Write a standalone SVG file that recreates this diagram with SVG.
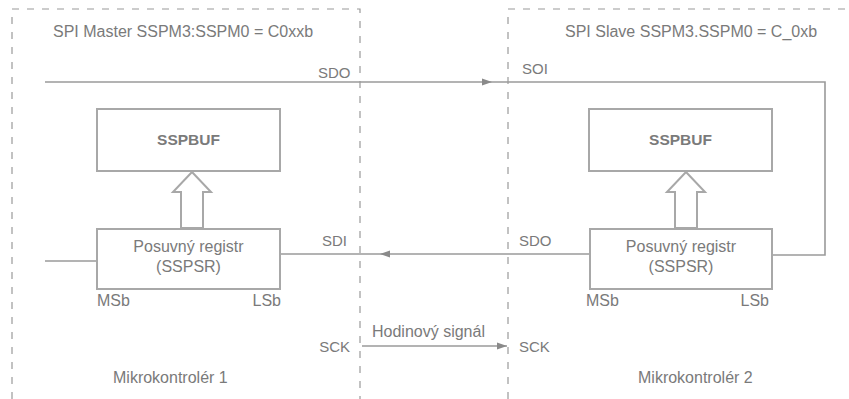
<svg xmlns="http://www.w3.org/2000/svg" width="849" height="399" viewBox="0 0 849 399">
<defs>
<style>
text{font-family:"Liberation Sans",Arial,sans-serif;font-size:16px;fill:#7a7a7a}
.b{font-weight:bold;font-size:15.5px}
.s{font-size:15px}
.dash{fill:none;stroke:#9a9a9a;stroke-width:1.2;stroke-dasharray:7 8}
.box{fill:#fff;stroke:#a8a8a8;stroke-width:2}
.ln{fill:none;stroke:#9a9a9a;stroke-width:1.6}
.hollow{fill:#fff;stroke:#a8a8a8;stroke-width:2;stroke-linejoin:miter}
</style>
<marker id="ah" viewBox="0 0 10 10" refX="10" refY="5" markerWidth="15" markerHeight="10" markerUnits="userSpaceOnUse" orient="auto">
<path d="M0,1.5 L10,5 L0,8.5 z" fill="#8a8a8a"/>
</marker>
</defs>
<rect width="849" height="399" fill="#fff"/>
<g id="frames">
<path class="dash" d="M12 399 V9 H360 V399"/>
<path class="dash" d="M508 399 V9 H849"/>
<text x="53" y="37" letter-spacing="0">SPI Master SSPM3:SSPM0 = C0xxb</text>
<text x="565" y="37">SPI Slave SSPM3.SSPM0 = C_0xb</text>
<text x="113" y="383">Mikrokontrolér 1</text>
<text x="638" y="383">Mikrokontrolér 2</text>
</g>
<g id="connectors">
<path class="ln" d="M45 82 H492" marker-end="url(#ah)"/>
<path class="ln" d="M492 82 H825 V255 H772"/>
<path class="ln" d="M590 254 H380" marker-end="url(#ah)"/>
<path class="ln" d="M380 254 H280"/>
<path class="ln" d="M45 261 H97"/>
<path class="ln" d="M362 346 H507" marker-end="url(#ah)"/>
<path class="hollow" d="M192 172 L211 192 H203 V228 H181 V192 H173 Z"/>
<path class="hollow" d="M686 172 L705 192 H697 V228 H675 V192 H667 Z"/>
<text class="s" x="318" y="78">SDO</text>
<text class="s" x="522" y="74">SOI</text>
<text class="s" x="322" y="246">SDI</text>
<text class="s" x="519" y="246">SDO</text>
<text class="s" x="350" y="352" text-anchor="end">SCK</text>
<text class="s" x="519" y="352">SCK</text>
<text x="372" y="337">Hodinový signál</text>
</g>
<g id="sspbuf1">
<rect class="box" x="97" y="109" width="183" height="62"/>
<text class="b" x="188.5" y="145" text-anchor="middle">SSPBUF</text>
</g>
<g id="sspsr1">
<rect class="box" x="97" y="229" width="183" height="60"/>
<text x="188.5" y="252" text-anchor="middle">Posuvný registr</text>
<text x="188.5" y="272" text-anchor="middle">(SSPSR)</text>
<text x="97" y="306">MSb</text>
<text x="281" y="306" text-anchor="end">LSb</text>
</g>
<g id="sspbuf2">
<rect class="box" x="589" y="109" width="183" height="62"/>
<text class="b" x="680.5" y="145" text-anchor="middle">SSPBUF</text>
</g>
<g id="sspsr2">
<rect class="box" x="590" y="229" width="182" height="60"/>
<text x="681" y="252" text-anchor="middle">Posuvný registr</text>
<text x="681" y="272" text-anchor="middle">(SSPSR)</text>
<text x="586" y="306">MSb</text>
<text x="769" y="306" text-anchor="end">LSb</text>
</g>
</svg>
